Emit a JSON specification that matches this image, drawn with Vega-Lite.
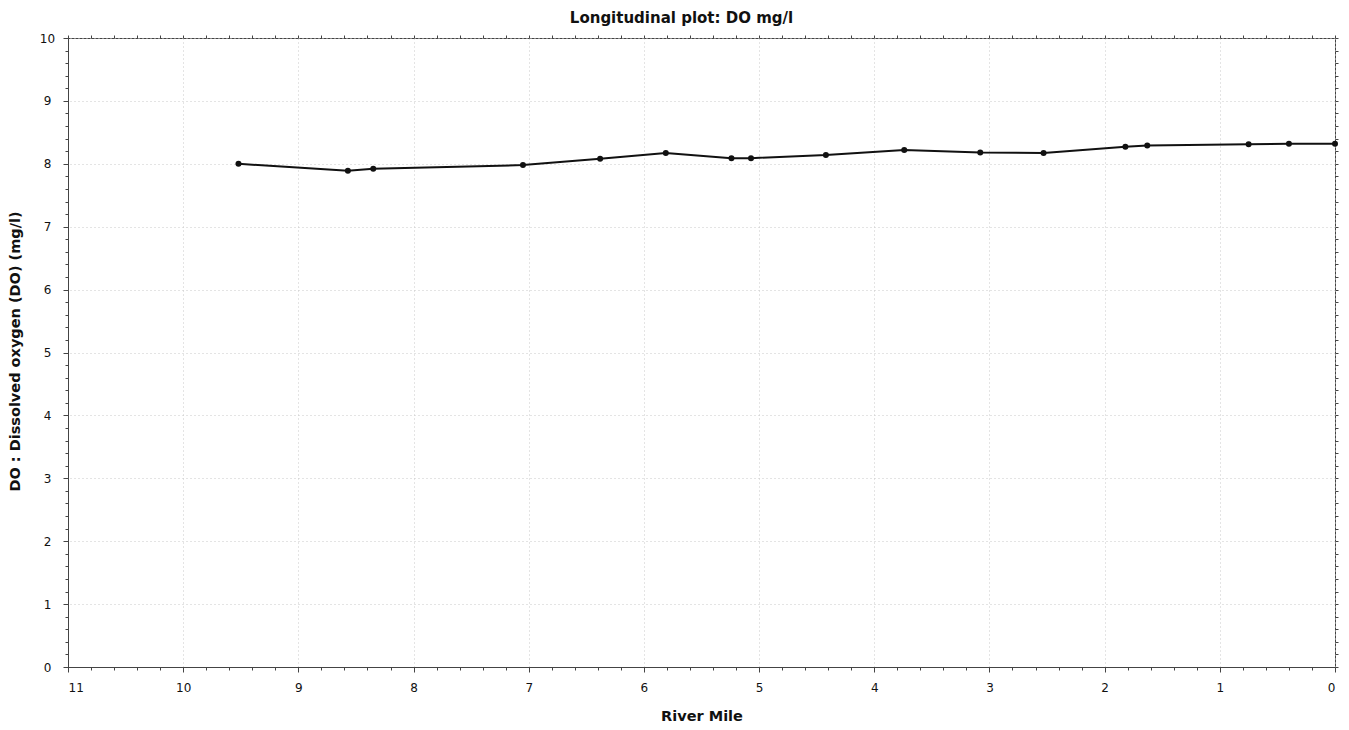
{
  "$schema": "https://vega.github.io/schema/vega-lite/v6.json",
  "width": 1267,
  "height": 629,
  "autosize": "none",
  "padding": {"left": 68, "top": 38, "right": 14, "bottom": 63},
  "background": "white",
  "title": {"text": "Longitudinal plot: DO mg/l", "font": "DejaVu Sans", "fontSize": 15, "fontWeight": "bold", "color": "#111", "offset": 6, "anchor": "middle", "dx": -20},
  "config": {
    "view": {"stroke": "#444", "strokeWidth": 1},
    "axis": {"labelFont": "DejaVu Sans", "labelFontSize": 12, "labelColor": "#111", "titleFont": "DejaVu Sans", "titleFontSize": 14.5, "titleFontWeight": "bold", "titleColor": "#111", "tickColor": "#444", "domainColor": "#444"}
  },
  "data": {"values": [
    {"mile": 9.52, "do": 8.00},
    {"mile": 8.57, "do": 7.89},
    {"mile": 8.35, "do": 7.92},
    {"mile": 7.05, "do": 7.98},
    {"mile": 6.38, "do": 8.08},
    {"mile": 5.81, "do": 8.17},
    {"mile": 5.24, "do": 8.09},
    {"mile": 5.07, "do": 8.09},
    {"mile": 4.42, "do": 8.14},
    {"mile": 3.74, "do": 8.22},
    {"mile": 3.08, "do": 8.18},
    {"mile": 2.53, "do": 8.17},
    {"mile": 1.82, "do": 8.27},
    {"mile": 1.63, "do": 8.29},
    {"mile": 0.75, "do": 8.31},
    {"mile": 0.40, "do": 8.32},
    {"mile": 0.00, "do": 8.32}
  ]},
  "layer": [
    {
      "mark": {"type": "point", "opacity": 0},
      "encoding": {
        "x": {"field": "mile", "type": "quantitative", "scale": {"domain": [0, 11], "reverse": true, "nice": false},
          "axis": {"orient": "bottom", "values": [0,0.2,0.4,0.6,0.8,1,1.2,1.4,1.6,1.8,2,2.2,2.4,2.6,2.8,3,3.2,3.4,3.6,3.8,4,4.2,4.4,4.6,4.8,5,5.2,5.4,5.6,5.8,6,6.2,6.4,6.6,6.8,7,7.2,7.4,7.6,7.8,8,8.2,8.4,8.6,8.8,9,9.2,9.4,9.6,9.8,10,10.2,10.4,10.6,10.8,11], "labels": false, "title": null, "tickSize": 3, "domain": false, "grid": false}},
        "y": {"field": "do", "type": "quantitative", "scale": {"domain": [0, 10], "nice": false},
          "axis": {"orient": "left", "values": [0,0.2,0.4,0.6,0.8,1,1.2,1.4,1.6,1.8,2,2.2,2.4,2.6,2.8,3,3.2,3.4,3.6,3.8,4,4.2,4.4,4.6,4.8,5,5.2,5.4,5.6,5.8,6,6.2,6.4,6.6,6.8,7,7.2,7.4,7.6,7.8,8,8.2,8.4,8.6,8.8,9,9.2,9.4,9.6,9.8,10], "labels": false, "title": null, "tickSize": 3, "domain": false, "grid": false}}
      }
    },
    {
      "mark": {"type": "point", "opacity": 0},
      "encoding": {
        "x": {"field": "mile", "type": "quantitative",
          "axis": {"orient": "top", "values": [0,0.2,0.4,0.6,0.8,1,1.2,1.4,1.6,1.8,2,2.2,2.4,2.6,2.8,3,3.2,3.4,3.6,3.8,4,4.2,4.4,4.6,4.8,5,5.2,5.4,5.6,5.8,6,6.2,6.4,6.6,6.8,7,7.2,7.4,7.6,7.8,8,8.2,8.4,8.6,8.8,9,9.2,9.4,9.6,9.8,10,10.2,10.4,10.6,10.8,11], "labels": false, "title": null, "tickSize": 3, "domain": false, "grid": false}},
        "y": {"field": "do", "type": "quantitative",
          "axis": {"orient": "right", "values": [0,0.2,0.4,0.6,0.8,1,1.2,1.4,1.6,1.8,2,2.2,2.4,2.6,2.8,3,3.2,3.4,3.6,3.8,4,4.2,4.4,4.6,4.8,5,5.2,5.4,5.6,5.8,6,6.2,6.4,6.6,6.8,7,7.2,7.4,7.6,7.8,8,8.2,8.4,8.6,8.8,9,9.2,9.4,9.6,9.8,10], "labels": false, "title": null, "tickSize": 3, "domain": false, "grid": false}}
      }
    },
    {
      "mark": {"type": "line", "color": "#111", "strokeWidth": 2},
      "encoding": {
        "x": {"field": "mile", "type": "quantitative",
          "axis": {"orient": "bottom", "values": [0,1,2,3,4,5,6,7,8,9,10,11], "format": "d", "title": "River Mile", "tickSize": 5, "labelPadding": 10, "titlePadding": 16, "grid": true, "gridColor": "#c8c8c8", "gridDash": [1, 3], "domain": true}},
        "y": {"field": "do", "type": "quantitative",
          "axis": {"orient": "left", "values": [0,1,2,3,4,5,6,7,8,9,10], "format": "d", "title": "DO : Dissolved oxygen (DO) (mg/l)", "tickSize": 5, "labelPadding": 16, "labelAlign": "center", "titleX": -53, "titleY": 313, "titleBaseline": "middle", "titleAlign": "center", "titleAngle": -90, "grid": true, "gridColor": "#c8c8c8", "gridDash": [1, 3], "domain": true}}
      }
    },
    {
      "mark": {"type": "point", "filled": true, "color": "#111", "size": 36, "opacity": 1},
      "encoding": {
        "x": {"field": "mile", "type": "quantitative", "axis": null},
        "y": {"field": "do", "type": "quantitative", "axis": null}
      }
    }
  ],
  "resolve": {"axis": {"x": "independent", "y": "independent"}}
}
